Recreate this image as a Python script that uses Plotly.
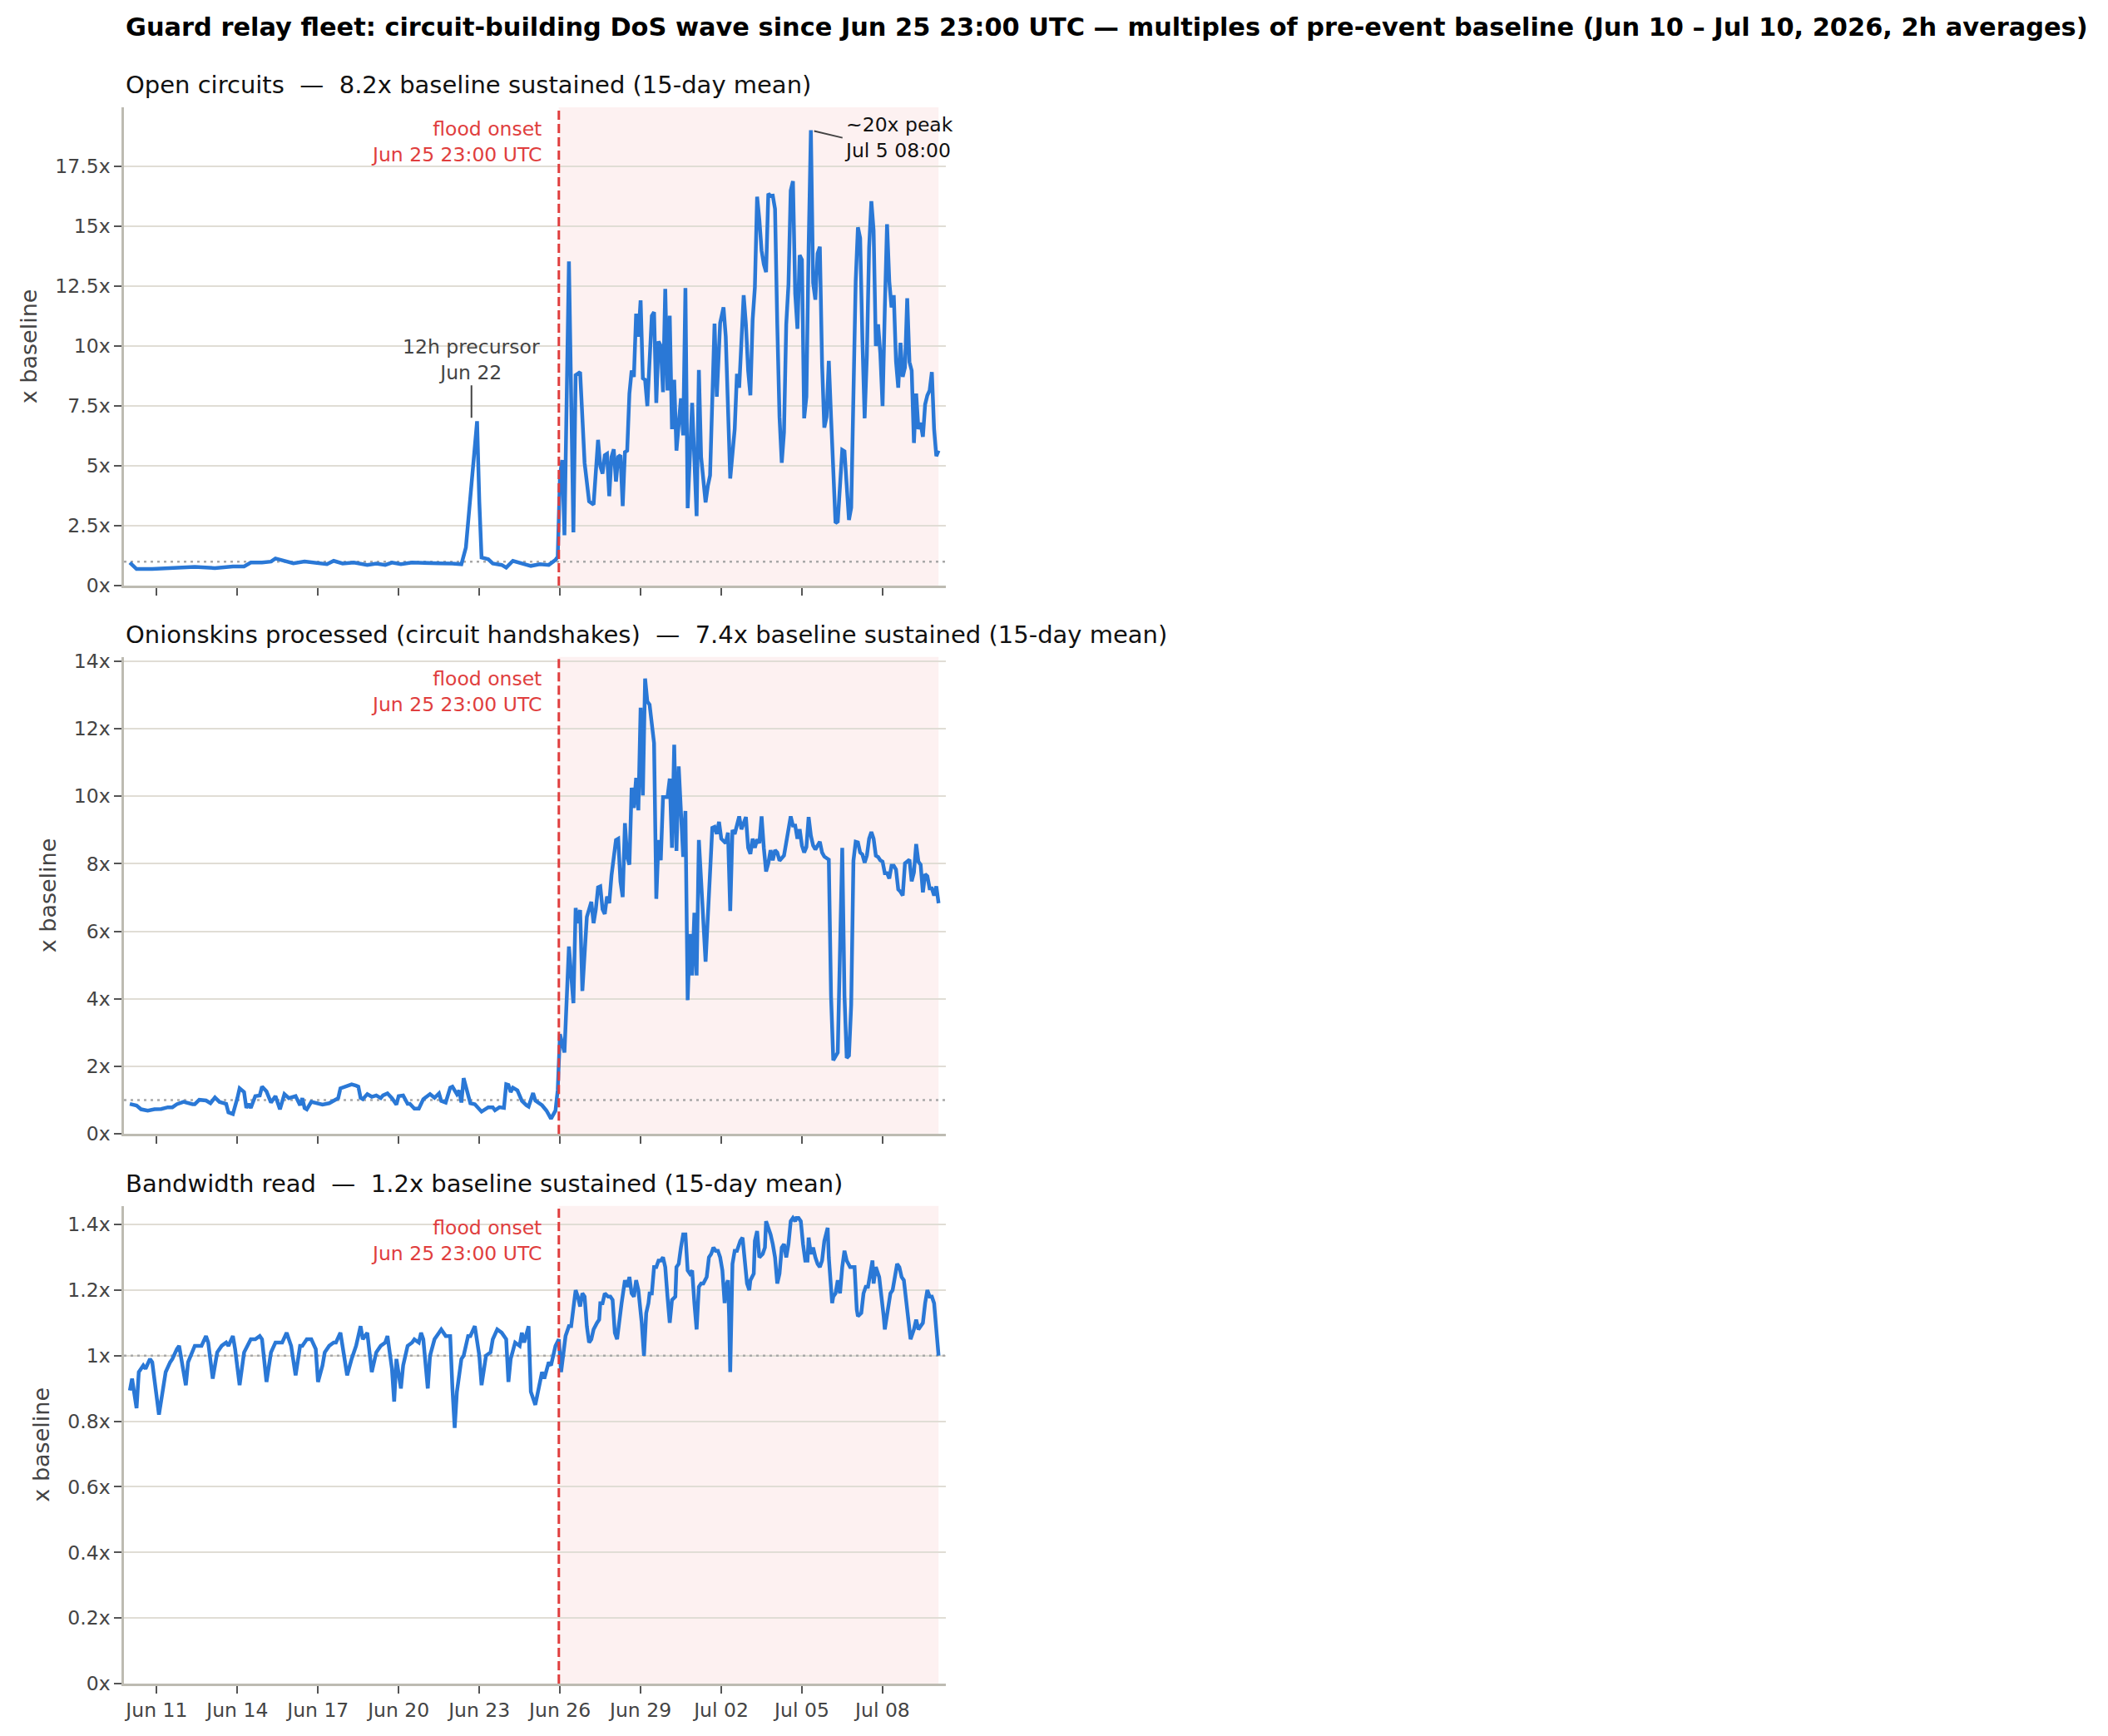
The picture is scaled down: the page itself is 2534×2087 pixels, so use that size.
import pandas as pd
import plotly.graph_objects as go

# ---------------- data (hours since 2026-06-10 00:00 UTC, value = multiple of baseline) ----------------
BASE = "2026-06-10 00:00"
ONSET = "2026-06-25 23:00"
BASELINE_LEVEL = 1.0
PEAK_TIME = "2026-07-05 08:00"
PEAK_VALUE = 19.0
PRECURSOR_TIME = "2026-06-22 17:00"
PRECURSOR_VALUE = 7.0

circ_h = [0, 6, 20, 38, 58, 76, 92, 102, 108, 118, 126, 130, 136, 146, 156, 168, 176, 182, 190, 200,
          212, 220, 228, 234, 242, 252, 266, 276, 288, 296, 300, 304, 310, 312, 314, 320, 324, 332, 336, 342,
          350, 358, 366, 374, 380, 382,
          384, 386, 388, 392, 396, 398, 402, 406, 410, 414, 418, 420, 422, 424, 426, 428, 430, 432, 434, 436,
          438, 440, 442, 444, 446, 448, 450, 452, 454, 456, 458, 460, 462, 466, 468, 470, 472, 474, 476, 478,
          480, 482, 484, 486, 488, 492, 494, 496, 498, 502, 506, 508, 510, 514, 516, 518, 522, 524, 527, 530,
          532, 534, 536, 540, 542, 544, 548, 550, 552, 554, 556, 558, 560, 562, 564, 566, 568, 570, 572, 574,
          576, 578, 580, 582, 584, 586, 588, 590, 592, 594, 596, 598, 600, 602, 604, 606, 608, 610, 612, 614,
          616, 618, 620, 622, 624, 626, 628, 630, 632, 634, 636, 638, 640, 642, 644, 646, 648, 650, 652, 654,
          656, 658, 660, 662, 664, 666, 668, 670, 672, 674, 676, 678, 680, 682, 684, 686, 688, 690, 692, 694,
          696, 698, 700, 702, 704, 706, 708, 710, 712, 714, 716, 718, 720, 722]
circ_v = [0.96, 0.69, 0.69, 0.75, 0.78, 0.73, 0.80, 0.80, 0.96, 0.96, 1.00, 1.13, 1.07, 0.93, 1.00, 0.95, 0.89, 1.03, 0.92, 0.96,
          0.86, 0.92, 0.86, 0.96, 0.89, 0.96, 0.96, 0.93, 0.92, 0.89, 1.58, 3.77, 6.86, 3.50, 1.17, 1.10, 0.92, 0.86, 0.75, 1.03,
          0.93, 0.82, 0.89, 0.86, 1.07, 1.20,
          4.60, 5.24, 2.10, 13.53, 2.22, 8.78, 8.91, 5.12, 3.51, 3.38, 6.08, 4.99, 4.67, 5.44, 5.50, 3.73, 5.37, 5.69, 4.34, 5.37,
          5.44, 3.32, 5.57, 5.63, 8.01, 8.97, 8.71, 11.35, 10.39, 11.90, 8.65, 8.59, 7.49, 11.26, 11.41, 7.62, 10.19, 10.00, 8.07, 12.38,
          8.14, 11.26, 6.53, 8.59, 5.63, 7.81, 6.27, 12.42, 3.23, 7.62, 2.90, 9.00, 5.37, 3.47, 4.15, 4.60, 10.93, 7.88, 10.96, 11.61,
          10.39, 7.04, 4.47, 6.53, 8.84, 8.26, 12.12, 10.90, 8.97, 7.94, 11.09, 12.44, 16.23, 15.27, 13.98, 13.41, 13.08, 16.36, 16.26, 16.27,
          15.72, 10.90, 7.04, 5.12, 6.40, 10.90, 12.57, 16.49, 16.88, 12.19, 10.71, 13.79, 13.60, 6.98, 7.88, 14.11, 19.00, 12.63, 11.93, 13.86,
          14.14, 9.23, 6.59, 7.04, 9.38, 7.04, 4.28, 2.61, 2.67, 3.96, 5.66, 5.60, 3.83, 2.74, 3.25, 8.33, 12.70, 14.95, 14.50, 10.26,
          6.98, 9.61, 14.11, 16.04, 14.82, 10.00, 10.90, 9.68, 7.49, 11.54, 15.08, 12.70, 11.61, 12.12, 9.36, 8.26, 10.13, 8.71, 9.10, 11.99,
          9.33, 8.97, 5.95, 8.01, 6.53, 6.79, 6.21, 7.56, 7.94, 8.14, 8.91, 6.53, 5.40, 5.63]

onion_h = [0, 6, 10, 16, 22, 28, 34, 38, 42, 48, 56, 58, 62, 68, 72, 76, 80, 84, 86, 88,
           92, 96, 98, 102, 104, 106, 108, 112, 116, 118, 122, 126, 130, 134, 138, 142, 148, 152, 154, 156,
           158, 162, 168, 172, 178, 184, 186, 188, 192, 198, 202, 204, 206, 208, 212, 216, 220, 224, 226, 230,
           234, 238, 240, 244, 248, 250, 254, 258, 262, 268, 272, 276, 278, 282, 286, 288, 292, 294, 296, 298,
           304, 308, 314, 320, 324, 326, 330, 334, 336, 338, 340, 342, 346, 350, 354, 356, 360, 362, 368, 372,
           376, 380, 382,
           384, 388, 392, 396, 398, 400, 402, 404, 408, 412, 414, 416, 418, 420, 422, 424, 426, 428, 430, 434,
           436, 438, 440, 442, 444, 446, 448, 450, 452, 454, 456, 458, 460, 462, 464, 468, 470, 472, 474, 476,
           480, 482, 484, 486, 488, 490, 494, 496, 498, 500, 502, 504, 506, 508, 512, 514, 520, 522, 524, 526,
           528, 532, 534, 536, 538, 540, 544, 546, 550, 552, 554, 556, 558, 560, 562, 564, 566, 568, 570, 572,
           574, 576, 578, 580, 584, 588, 590, 592, 594, 596, 598, 600, 602, 604, 606, 608, 610, 612, 616, 618,
           620, 624, 626, 628, 630, 632, 636, 638, 640, 642, 644, 646, 648, 650, 652, 654, 656, 658, 660, 662,
           664, 666, 668, 670, 672, 674, 676, 678, 680, 682, 684, 686, 688, 690, 692, 694, 696, 698, 700, 702,
           704, 706, 708, 710, 712, 714, 716, 718, 720, 722]
onion_v = [0.89, 0.84, 0.73, 0.69, 0.73, 0.74, 0.79, 0.79, 0.88, 0.95, 0.88, 0.88, 1.01, 0.99, 0.91, 1.08, 0.95, 0.91, 0.89, 0.64,
           0.59, 1.06, 1.35, 1.24, 0.77, 0.89, 0.77, 1.12, 1.14, 1.40, 1.26, 0.93, 1.12, 0.73, 1.18, 1.06, 1.12, 0.85, 1.06, 0.77,
           0.73, 0.95, 0.89, 0.87, 0.91, 1.02, 1.06, 1.35, 1.39, 1.47, 1.43, 1.40, 1.07, 1.03, 1.18, 1.10, 1.14, 1.06, 1.14, 1.20,
           1.06, 0.87, 1.12, 1.14, 0.89, 0.89, 0.75, 0.75, 1.03, 1.18, 1.07, 1.20, 0.98, 0.93, 1.37, 1.40, 1.18, 1.29, 0.93, 1.65,
           0.91, 0.88, 0.66, 0.79, 0.79, 0.70, 0.79, 0.77, 1.47, 1.45, 1.24, 1.37, 1.29, 0.98, 0.85, 0.81, 1.21, 0.99, 0.85, 0.69,
           0.45, 0.69, 1.30,
           2.95, 2.41, 5.55, 3.87, 6.69, 6.24, 6.63, 4.23, 6.42, 6.87, 6.24, 6.65, 7.30, 7.33, 6.65, 6.51, 7.03, 6.83, 7.65, 8.70,
           8.74, 7.47, 7.01, 9.20, 8.20, 7.97, 10.25, 9.65, 10.54, 9.58, 12.62, 10.02, 13.48, 12.80, 12.71, 11.57, 6.96, 8.70, 8.10, 9.97,
           9.97, 10.52, 8.47, 11.52, 8.38, 10.88, 8.20, 9.56, 3.96, 5.92, 4.69, 6.55, 4.69, 8.70, 6.55, 5.10, 9.06, 9.09, 8.88, 9.24,
           8.74, 8.61, 8.92, 6.60, 9.00, 8.88, 9.40, 9.02, 9.38, 8.47, 8.29, 8.74, 8.47, 8.72, 8.61, 9.40, 8.47, 7.77, 8.01, 8.40,
           8.10, 8.40, 8.33, 8.09, 8.24, 9.02, 9.40, 9.13, 9.13, 8.74, 9.02, 8.54, 8.33, 8.49, 9.38, 8.83, 8.54, 8.42, 8.65, 8.33,
           8.21, 8.12, 4.09, 2.18, 2.32, 2.41, 8.47, 4.09, 2.25, 2.32, 3.82, 8.09, 8.65, 8.63, 8.33, 8.27, 8.03, 8.24, 8.74, 8.94,
           8.74, 8.24, 8.20, 8.10, 8.06, 7.72, 7.72, 7.56, 7.94, 7.94, 7.83, 7.24, 7.17, 7.06, 8.01, 8.06, 8.12, 7.48, 7.74, 8.58,
           8.06, 7.97, 7.15, 7.69, 7.63, 7.27, 7.27, 7.06, 7.33, 6.83]

bw_h = [0, 2, 6, 8, 12, 14, 18, 20, 26, 30, 32, 36, 38, 42, 44, 50, 52, 58, 62, 64,
        68, 70, 74, 78, 82, 86, 88, 92, 94, 98, 102, 106, 108, 112, 116, 118, 122, 126, 130, 134,
        136, 140, 144, 148, 152, 154, 158, 162, 166, 168, 172, 174, 178, 182, 184, 188, 190, 194, 198, 202,
        206, 208, 212, 216, 220, 224, 228, 230, 234, 236, 238, 242, 244, 248, 252, 254, 258, 260, 262, 266,
        268, 272, 276, 278, 282, 286, 288, 290, 292, 296, 298, 302, 304, 308, 312, 314, 318, 322, 324, 328,
        332, 336, 338, 340, 344, 348, 350, 352, 356, 358, 362, 366, 368, 370, 374, 376, 380, 383, 385,
        389, 392, 394, 396, 398, 400, 402, 404, 406, 408, 410, 412, 414, 417, 419, 420, 422, 424, 427, 429,
        431, 433, 435, 439, 442, 444, 446, 448, 450, 452, 454, 457, 459, 461, 463, 464, 466, 468, 470, 472,
        474, 476, 478, 480, 482, 484, 487, 488, 490, 492, 494, 496, 498, 500, 502, 504, 506, 508, 510, 512,
        515, 517, 519, 521, 523, 525, 527, 529, 531, 532, 534, 535, 536, 538, 540, 542, 544, 545, 547, 549,
        551, 553, 554, 557, 558, 560, 562, 565, 567, 568, 570, 572, 574, 576, 578, 580, 582, 584, 586, 588,
        590, 592, 594, 595, 597, 599, 601, 603, 605, 606, 608, 610, 612, 614, 616, 618, 620, 623, 624, 627,
        628, 630, 632, 634, 636, 638, 640, 643, 644, 647, 649, 650, 653, 655, 657, 659, 660, 663, 664, 666,
        669, 671, 673, 674, 676, 678, 679, 681, 683, 685, 687, 689, 691, 693, 695, 697, 700, 702, 704, 706,
        708, 710, 712, 714, 716, 718, 720, 722]
bw_v = [0.894, 0.93, 0.84, 0.95, 0.97, 0.96, 0.99, 0.98, 0.82, 0.90, 0.95, 0.98, 0.99, 1.02, 1.03, 0.91, 0.98, 1.03, 1.03, 1.03,
        1.06, 1.04, 0.93, 1.01, 1.03, 1.04, 1.03, 1.06, 1.02, 0.91, 1.01, 1.04, 1.05, 1.05, 1.06, 1.05, 0.92, 1.01, 1.04, 1.04,
        1.04, 1.07, 1.03, 0.94, 1.03, 1.03, 1.05, 1.05, 1.02, 0.92, 0.97, 1.01, 1.03, 1.04, 1.04, 1.07, 1.03, 0.94, 0.99, 1.03,
        1.09, 1.05, 1.07, 0.95, 1.01, 1.03, 1.04, 1.06, 0.96, 0.86, 0.99, 0.90, 0.97, 1.03, 1.04, 1.05, 1.04, 1.07, 1.05, 0.90,
        1.00, 1.05, 1.07, 1.08, 1.06, 1.06, 0.90, 0.78, 0.89, 0.99, 1.00, 1.06, 1.06, 1.09, 1.00, 0.91, 1.00, 1.01, 1.05, 1.08,
        1.07, 1.05, 0.92, 0.99, 1.04, 1.03, 1.07, 1.04, 1.09, 0.89, 0.85, 0.92, 0.95, 0.93, 0.98, 0.97, 1.03, 1.05, 0.95,
        1.06, 1.09, 1.09, 1.14, 1.20, 1.18, 1.15, 1.19, 1.18, 1.09, 1.04, 1.05, 1.08, 1.10, 1.11, 1.16, 1.16, 1.19, 1.18, 1.18,
        1.17, 1.07, 1.05, 1.16, 1.23, 1.21, 1.24, 1.19, 1.18, 1.23, 1.20, 1.10, 1.00, 1.13, 1.16, 1.19, 1.19, 1.27, 1.27, 1.29,
        1.29, 1.30, 1.27, 1.18, 1.10, 1.17, 1.18, 1.27, 1.28, 1.33, 1.37, 1.37, 1.26, 1.25, 1.26, 1.16, 1.08, 1.21, 1.22, 1.22,
        1.24, 1.30, 1.31, 1.33, 1.32, 1.32, 1.30, 1.26, 1.16, 1.21, 1.23, 1.12, 0.95, 1.28, 1.32, 1.32, 1.34, 1.35, 1.36, 1.29,
        1.22, 1.20, 1.23, 1.25, 1.35, 1.38, 1.30, 1.31, 1.33, 1.41, 1.39, 1.37, 1.34, 1.30, 1.22, 1.25, 1.33, 1.34, 1.30, 1.34,
        1.41, 1.42, 1.41, 1.42, 1.42, 1.41, 1.34, 1.29, 1.29, 1.36, 1.31, 1.33, 1.30, 1.28, 1.27, 1.29, 1.35, 1.39, 1.30, 1.16,
        1.18, 1.19, 1.23, 1.19, 1.27, 1.32, 1.29, 1.27, 1.27, 1.27, 1.14, 1.12, 1.13, 1.19, 1.21, 1.21, 1.23, 1.29, 1.22, 1.27,
        1.24, 1.19, 1.12, 1.08, 1.12, 1.17, 1.19, 1.20, 1.25, 1.28, 1.27, 1.24, 1.23, 1.17, 1.11, 1.05, 1.08, 1.11, 1.08, 1.09,
        1.10, 1.16, 1.20, 1.18, 1.18, 1.16, 1.08, 1.00]

panel_titles = [
    "Open circuits  \u2014  8.2x baseline sustained (15-day mean)",
    "Onionskins processed (circuit handshakes)  \u2014  7.4x baseline sustained (15-day mean)",
    "Bandwidth read  \u2014  1.2x baseline sustained (15-day mean)",
]
main_title = ("Guard relay fleet: circuit-building DoS wave since Jun 25 23:00 UTC \u2014 "
              "multiples of pre-event baseline (Jun 10 \u2013 Jul 10, 2026, 2h averages)")

x_tick_dates = ["2026-06-11", "2026-06-14", "2026-06-17", "2026-06-20", "2026-06-23",
                "2026-06-26", "2026-06-29", "2026-07-02", "2026-07-05", "2026-07-08"]
x_tick_labels = ["Jun 11", "Jun 14", "Jun 17", "Jun 20", "Jun 23",
                 "Jun 26", "Jun 29", "Jul 02", "Jul 05", "Jul 08"]

y1_ticks = [0, 2.5, 5, 7.5, 10, 12.5, 15, 17.5]
y1_labels = ["0x", "2.5x", "5x", "7.5x", "10x", "12.5x", "15x", "17.5x"]
y2_ticks = [0, 2, 4, 6, 8, 10, 12, 14]
y2_labels = ["0x", "2x", "4x", "6x", "8x", "10x", "12x", "14x"]
y3_ticks = [0, 0.2, 0.4, 0.6, 0.8, 1.0, 1.2, 1.4]
y3_labels = ["0x", "0.2x", "0.4x", "0.6x", "0.8x", "1x", "1.2x", "1.4x"]

# ---------------- styling ----------------
FONT = "DejaVu Sans"
BLUE = "#2a78d6"
RED = "#e03e3e"
GRID = "#e0ddd5"
SPINE = "#bdbbb2"
TICKC = "#444444"

base = pd.Timestamp(BASE)


def to_time(hours):
    return base + pd.to_timedelta(pd.Series(hours, dtype=float), unit="h")


t_circ = to_time(circ_h)
t_onion = to_time(onion_h)
t_bw = to_time(bw_h)
data_end = t_circ.iloc[-1]

x_range = [base - pd.Timedelta(hours=5.25), base + pd.Timedelta(hours=728.5)]

fig = go.Figure()
series = [(t_circ, circ_v, "x", "y"), (t_onion, onion_v, "x2", "y2"), (t_bw, bw_v, "x3", "y3")]
for t, v, xa, ya in series:
    # dotted pre-event baseline (1x) across the full axis width, under the data line
    fig.add_trace(go.Scatter(x=x_range, y=[BASELINE_LEVEL, BASELINE_LEVEL], mode="lines",
                             xaxis=xa, yaxis=ya, hoverinfo="skip", showlegend=False,
                             line=dict(color="#a8a8a8", width=2.5, dash="3px,5px")))
    fig.add_trace(go.Scatter(x=t, y=v, mode="lines", xaxis=xa, yaxis=ya,
                             line=dict(color=BLUE, width=4.5), showlegend=False))

# plot-area geometry (pixels): top 129, bottom 2024.5 -> height 1895.5
domains = [[0.6966, 1.0], [0.3487, 0.6513], [0.0, 0.3031]]
y_ranges = [[0, 19.96], [0, 14.12], [0, 1.457]]
y_ticks = [(y1_ticks, y1_labels), (y2_ticks, y2_labels), (y3_ticks, y3_labels)]

layout = dict(
    width=2534, height=2087,
    margin=dict(l=149, r=1397, t=129, b=62.5),
    paper_bgcolor="white", plot_bgcolor="white",
    font=dict(family=FONT, size=23.5, color=TICKC),
    showlegend=False,
)

for i in range(3):
    sx = "" if i == 0 else str(i + 1)
    layout["xaxis" + sx] = dict(
        domain=[0, 1], anchor="y" + sx, type="date", range=x_range,
        tickvals=x_tick_dates, ticktext=x_tick_labels, showticklabels=(i == 2),
        ticks="outside", ticklen=9, tickwidth=2, tickcolor="#555555",
        showline=True, linecolor=SPINE, linewidth=2.5, showgrid=False, zeroline=False,
        tickfont=dict(family=FONT, size=23.5, color=TICKC),
        **({} if i == 0 else {"matches": "x"}),
    )
    layout["yaxis" + sx] = dict(
        domain=domains[i], anchor="x" + sx, range=y_ranges[i],
        tickvals=y_ticks[i][0], ticktext=y_ticks[i][1],
        ticks="outside", ticklen=9, tickwidth=2, tickcolor="#555555",
        showline=True, linecolor=SPINE, linewidth=2.5,
        showgrid=True, gridcolor=GRID, gridwidth=2, zeroline=False,
        tickfont=dict(family=FONT, size=23.5, color=TICKC),
        title=dict(text="x baseline", font=dict(family=FONT, size=27, color=TICKC), standoff=14),
        automargin=False,
    )

fig.update_layout(**layout)

shapes = []
annotations = []
for i in range(3):
    sx = "" if i == 0 else str(i + 1)
    # shaded post-onset span
    shapes.append(dict(type="rect", xref="x" + sx, yref="y" + sx + " domain",
                       x0=ONSET, x1=data_end, y0=0, y1=1,
                       fillcolor="rgba(220,60,60,0.07)", line=dict(width=0), layer="below"))
    # onset dashed line
    shapes.append(dict(type="line", xref="x" + sx, yref="y" + sx + " domain",
                       x0=ONSET, x1=ONSET, y0=0, y1=1,
                       line=dict(color=RED, width=3, dash="11px,5px"), layer="above"))
    # flood onset label
    annotations.append(dict(text="flood onset<br>Jun 25 23:00 UTC", xref="x" + sx, yref="y" + sx + " domain",
                            x=ONSET, y=1, xanchor="right", yanchor="top", xshift=-19, yshift=-10,
                            align="right", showarrow=False,
                            font=dict(family=FONT, size=23.5, color=RED)))
    # panel title
    annotations.append(dict(text=panel_titles[i], xref="x" + sx + " domain", yref="y" + sx + " domain",
                            x=0, y=1, xanchor="left", yanchor="middle", yshift=27, showarrow=False,
                            font=dict(family=FONT, size=29, color="#111111")))

# main title
annotations.append(dict(text="<b>" + main_title + "</b>", xref="paper", yref="paper",
                        x=0, y=1 + (129 - 32) / 1895.5, xanchor="left", yanchor="middle", showarrow=False,
                        font=dict(family=FONT, size=30.4, color="#000000")))

# precursor annotation
annotations.append(dict(text="12h precursor<br>Jun 22", xref="x", yref="y",
                        x=PRECURSOR_TIME, y=PRECURSOR_VALUE, ax=0, ay=-70,
                        showarrow=True, arrowhead=0, arrowwidth=2, arrowcolor="#444444", standoff=0,
                        align="center", font=dict(family=FONT, size=23.5, color="#444444")))

# peak annotation
annotations.append(dict(text="~20x peak<br>Jul 5 08:00", xref="x", yref="y",
                        x=PEAK_TIME, y=PEAK_VALUE, ax=38, ay=9, xanchor="left", yanchor="middle",
                        showarrow=True, arrowhead=0, arrowwidth=2, arrowcolor="#444444", standoff=4,
                        align="left", font=dict(family=FONT, size=23.5, color="#111111")))

fig.update_layout(shapes=shapes, annotations=annotations)
fig.write_html("out.html")
